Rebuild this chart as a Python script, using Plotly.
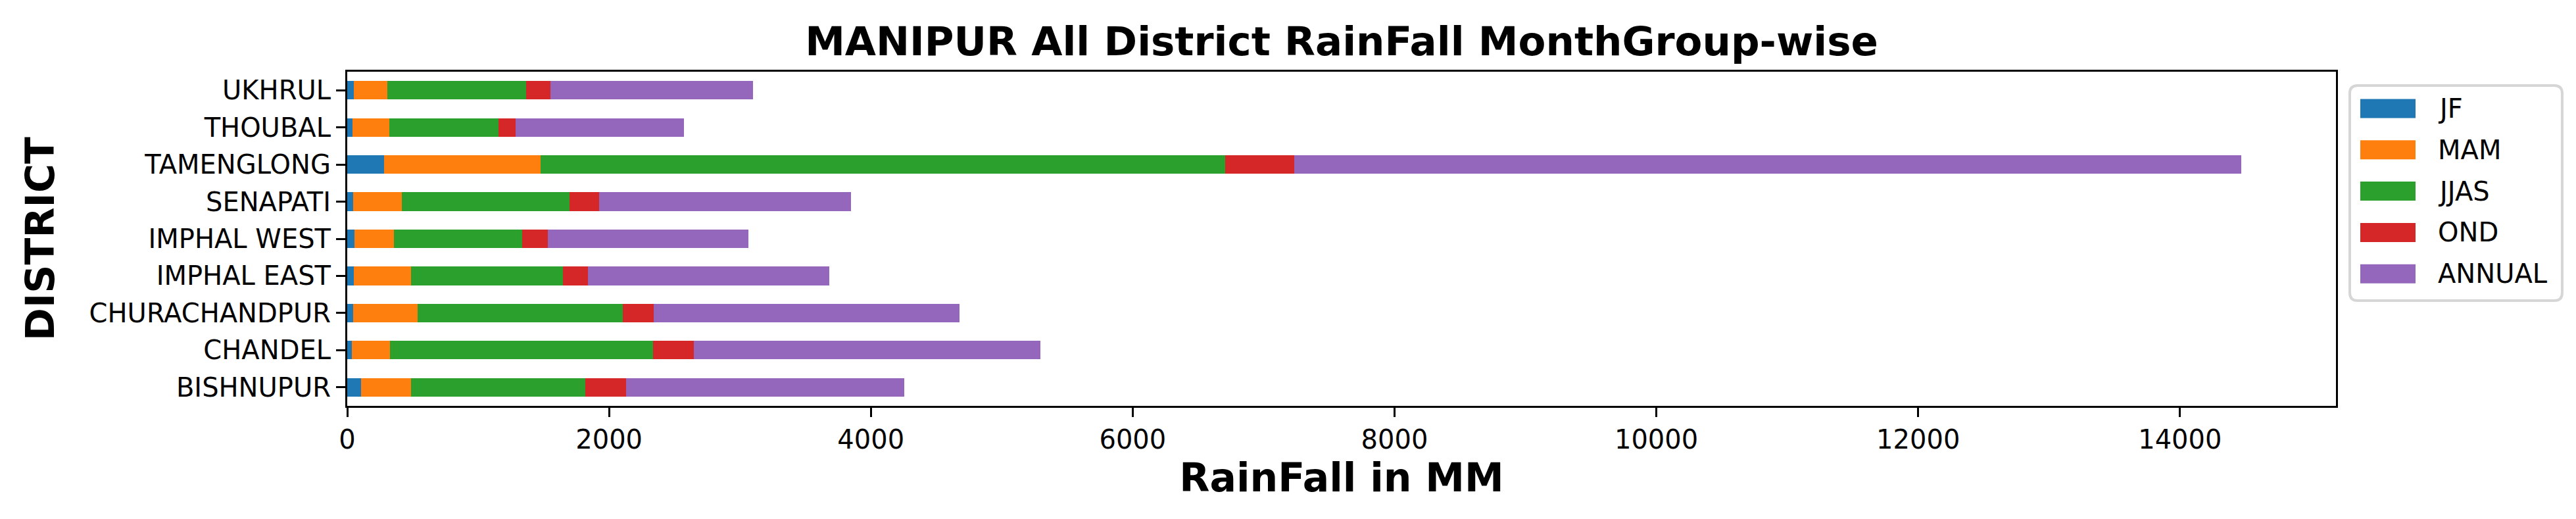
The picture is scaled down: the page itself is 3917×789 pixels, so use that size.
import plotly.graph_objects as go

districts = ["BISHNUPUR", "CHANDEL", "CHURACHANDPUR", "IMPHAL EAST", "IMPHAL WEST",
             "SENAPATI", "TAMENGLONG", "THOUBAL", "UKHRUL"]
series_names = ["JF", "MAM", "JJAS", "OND", "ANNUAL"]
jf = [103, 33, 43, 48, 53, 43, 279, 38, 48]
mam = [382, 296, 497, 437, 306, 372, 1197, 281, 256]
jjas = [1333, 2005, 1564, 1165, 976, 1282, 5228, 835, 1061]
ond = [311, 313, 236, 188, 196, 226, 528, 131, 186]
annual = [2127, 2650, 2338, 1845, 1534, 1926, 7236, 1287, 1549]
colors = ["#1f77b4", "#ff7f0e", "#2ca02c", "#d62728", "#9467bd"]
x_ticks = [0, 2000, 4000, 6000, 8000, 10000, 12000, 14000]

values = [jf, mam, jjas, ond, annual]
FONT = "DejaVu Sans"

fig = go.Figure()
for name, vals, col in zip(series_names, values, colors):
    fig.add_trace(go.Bar(y=districts, x=vals, name=name, orientation="h",
                         marker=dict(color=col, line=dict(width=0)),
                         width=0.5, showlegend=False))

totals = [sum(v[i] for v in values) for i in range(len(districts))]
xmax = max(totals) * 1.05

W, H = 3917, 789
L, R, T, B = 520, 373, 101, 180
pw = W - L - R
ph = H - T - B

fig.update_layout(
    width=W, height=H,
    margin=dict(l=L, r=R, t=T, b=B, autoexpand=False),
    barmode="stack",
    plot_bgcolor="white", paper_bgcolor="white",
    font=dict(family=FONT, size=40, color="black"),
    title=dict(text="<b>MANIPUR All District RainFall MonthGroup-wise</b>",
               x=(L + pw / 2) / W, xanchor="center", xref="container",
               y=1 - 55 / H, yanchor="middle", yref="container",
               font=dict(family=FONT, size=61, color="black")),
    xaxis=dict(range=[0, xmax], tickvals=x_ticks, tickformat="d",
               showgrid=False, zeroline=False, showline=True, linecolor="black",
               linewidth=3, mirror=True, ticks="outside", ticklen=14, tickwidth=3,
               tickcolor="black", tickfont=dict(size=40, family=FONT),
               title=dict(text="<b>RainFall in MM</b>", standoff=14,
                          font=dict(size=60, family=FONT))),
    yaxis=dict(categoryorder="array", categoryarray=districts, range=[-0.5, len(districts) - 0.5],
               showgrid=False, zeroline=False, showline=True, linecolor="black",
               linewidth=3, mirror=True, ticks="outside", ticklen=14, tickwidth=3,
               tickcolor="black", tickfont=dict(size=40, family=FONT),
               title=dict(text="<b>DISTRICT</b>", standoff=34,
                          font=dict(size=60, family=FONT))),
)

# custom legend (outside the plot, right side)
def px_to_paper_x(px):
    return (px - L) / pw

def px_to_paper_y(py):
    return (H - B - py) / ph

bx0, bx1, by0, by1 = 3565, 3888, 122, 449
r = 12
fig.add_shape(type="path", xref="paper", yref="paper",
              path=(f"M {px_to_paper_x(bx0 + r)},{px_to_paper_y(by0)} "
                    f"L {px_to_paper_x(bx1 - r)},{px_to_paper_y(by0)} "
                    f"Q {px_to_paper_x(bx1)},{px_to_paper_y(by0)} {px_to_paper_x(bx1)},{px_to_paper_y(by0 + r)} "
                    f"L {px_to_paper_x(bx1)},{px_to_paper_y(by1 - r)} "
                    f"Q {px_to_paper_x(bx1)},{px_to_paper_y(by1)} {px_to_paper_x(bx1 - r)},{px_to_paper_y(by1)} "
                    f"L {px_to_paper_x(bx0 + r)},{px_to_paper_y(by1)} "
                    f"Q {px_to_paper_x(bx0)},{px_to_paper_y(by1)} {px_to_paper_x(bx0)},{px_to_paper_y(by1 - r)} "
                    f"L {px_to_paper_x(bx0)},{px_to_paper_y(by0 + r)} "
                    f"Q {px_to_paper_x(bx0)},{px_to_paper_y(by0)} {px_to_paper_x(bx0 + r)},{px_to_paper_y(by0)} Z"),
              line=dict(color="#d6d6d6", width=4), fillcolor="white", layer="above")

entry_y0, entry_step = 157, 62.8
for i, (name, col) in enumerate(zip(series_names, colors)):
    cy = entry_y0 + i * entry_step
    fig.add_shape(type="rect", xref="paper", yref="paper",
                  x0=px_to_paper_x(3581), x1=px_to_paper_x(3665),
                  y0=px_to_paper_y(cy - 14.5), y1=px_to_paper_y(cy + 14.5),
                  fillcolor=col, line=dict(width=0), layer="above")
    fig.add_annotation(xref="paper", yref="paper", x=px_to_paper_x(3697), y=px_to_paper_y(cy),
                       text=name, showarrow=False, xanchor="left", yanchor="middle",
                       font=dict(family=FONT, size=40, color="black"))

fig.write_html("out.html")
